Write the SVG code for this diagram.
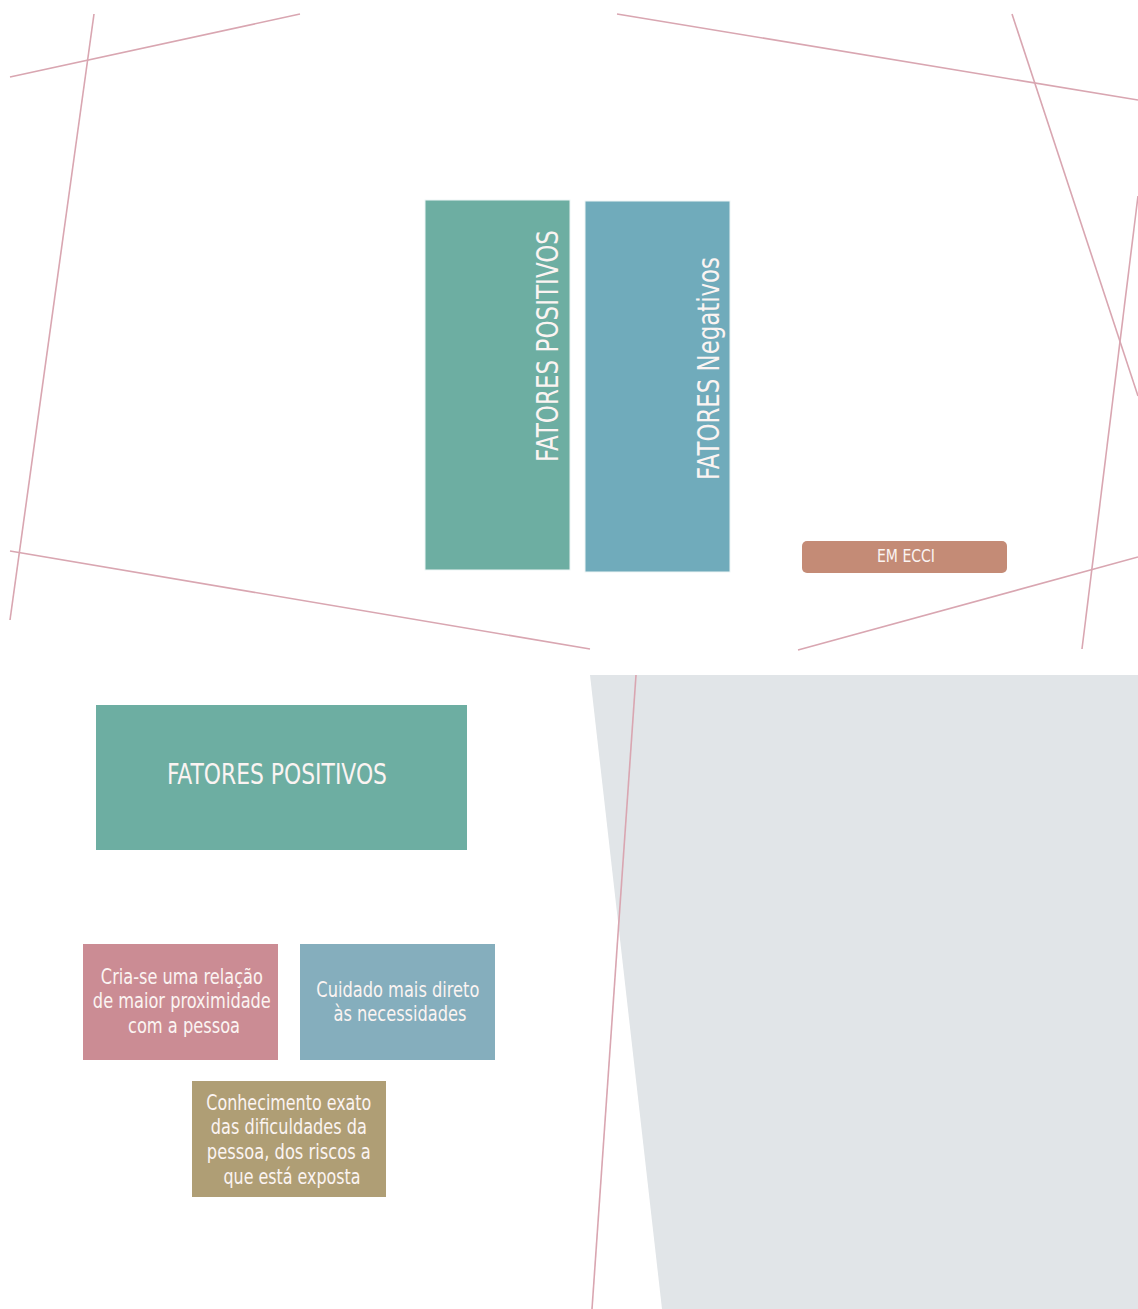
<svg xmlns="http://www.w3.org/2000/svg" width="1138" height="1309" viewBox="0 0 1138 1309">
<style>
.ln{stroke:#d9a6b1;stroke-width:1.6;fill:none}
.t{font-family:"Liberation Sans Narrow","DejaVu Sans Condensed","Liberation Sans",sans-serif;fill:#fbf4f2}
.box{stroke:#eef5f5;stroke-width:1}
</style>
<rect width="1138" height="1309" fill="#ffffff"/>
<polygon points="590,675 1138,675 1138,1309 662,1309" fill="#e1e5e8"/>
<g id="lines">
<line class="ln" x1="10" y1="77" x2="300" y2="14"/>
<line class="ln" x1="94" y1="14" x2="10" y2="620"/>
<line class="ln" x1="617" y1="14" x2="1138" y2="100"/>
<line class="ln" x1="1012" y1="14" x2="1138" y2="396"/>
<line class="ln" x1="1138" y1="196" x2="1082" y2="649"/>
<line class="ln" x1="798" y1="650" x2="1138" y2="557"/>
<line class="ln" x1="10" y1="551" x2="590" y2="649"/>
<line class="ln" x1="636" y1="675" x2="592" y2="1309"/>
</g>
<g id="fatores-positivos-v">
<rect class="box" x="425" y="200" width="145" height="370" fill="#6daea2"/>
<text class="t" transform="translate(558,462) rotate(-90)" font-size="30" textLength="232" lengthAdjust="spacingAndGlyphs">FATORES POSITIVOS</text>
</g>
<g id="fatores-negativos-v">
<rect class="box" x="585" y="201" width="145" height="371" fill="#70abbb"/>
<text class="t" transform="translate(719,480) rotate(-90)" font-size="30" textLength="223" lengthAdjust="spacingAndGlyphs">FATORES Negativos</text>
</g>
<g id="em-ecci">
<rect x="802" y="541" width="205" height="32" rx="5" fill="#c48b76"/>
<text class="t" x="906" y="562" font-size="18" text-anchor="middle" textLength="58" lengthAdjust="spacingAndGlyphs">EM ECCI</text>
</g>
<g id="fatores-positivos-h">
<rect x="96" y="705" width="371" height="145" fill="#6daea2"/>
<text class="t" x="277" y="784" font-size="29" text-anchor="middle" textLength="220" lengthAdjust="spacingAndGlyphs">FATORES POSITIVOS</text>
</g>
<g id="relacao">
<rect x="83" y="944" width="195" height="116" fill="#cb8c94"/>
<text class="t" font-size="22" text-anchor="middle">
<tspan x="185" y="984" textLength="162" lengthAdjust="spacingAndGlyphs">Cria-se uma relação</tspan>
<tspan x="185" y="1008" textLength="178" lengthAdjust="spacingAndGlyphs">de maior proximidade</tspan>
<tspan x="184" y="1033" textLength="112" lengthAdjust="spacingAndGlyphs">com a pessoa</tspan>
</text>
</g>
<g id="cuidado">
<rect x="300" y="944" width="195" height="116" fill="#85aebd"/>
<text class="t" font-size="22" text-anchor="middle">
<tspan x="401" y="997" textLength="163" lengthAdjust="spacingAndGlyphs">Cuidado mais direto</tspan>
<tspan x="400" y="1021" textLength="133" lengthAdjust="spacingAndGlyphs">às necessidades</tspan>
</text>
</g>
<g id="conhecimento">
<rect x="192" y="1081" width="194" height="116" fill="#af9e75"/>
<text class="t" font-size="22" text-anchor="middle">
<tspan x="292" y="1110" textLength="165" lengthAdjust="spacingAndGlyphs">Conhecimento exato</tspan>
<tspan x="292" y="1134" textLength="156" lengthAdjust="spacingAndGlyphs">das dificuldades da</tspan>
<tspan x="292" y="1159" textLength="164" lengthAdjust="spacingAndGlyphs">pessoa, dos riscos a</tspan>
<tspan x="292" y="1184" textLength="137" lengthAdjust="spacingAndGlyphs">que está exposta</tspan>
</text>
</g>
</svg>
